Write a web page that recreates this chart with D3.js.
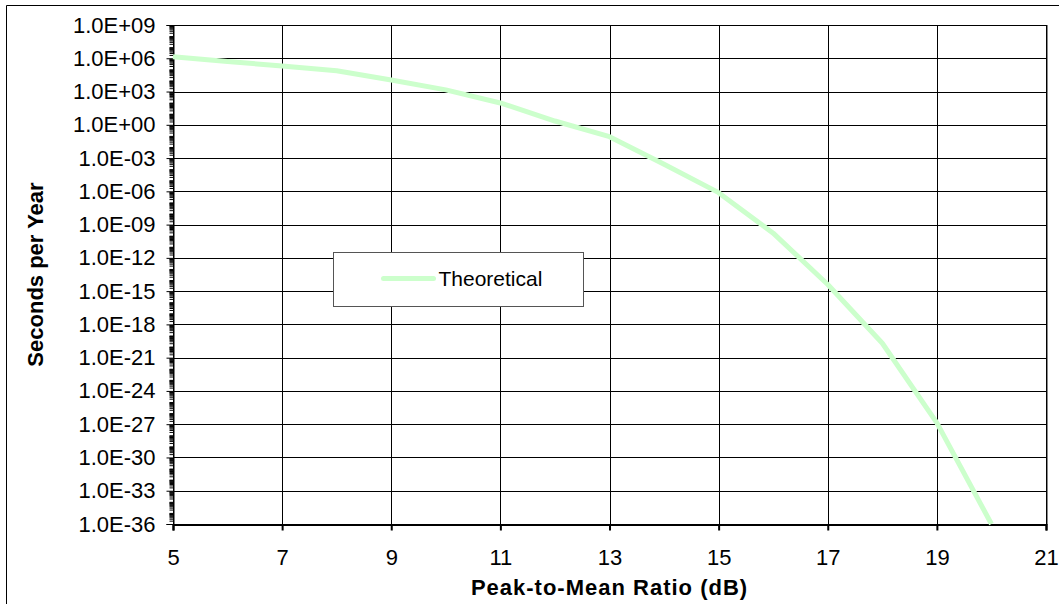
<!DOCTYPE html>
<html>
<head>
<meta charset="utf-8">
<script src="https://cdn.jsdelivr.net/npm/d3@7"></script>
<style>
  body { margin: 0; background: #fff; }
  svg { font-family: "Liberation Sans", Arial, sans-serif; }
</style>
</head>
<body>
<div id="chart"></div>
<script>
// peak-to-mean ratio (dB)
var ratios = [5, 6, 7, 8, 9, 10, 11, 12, 13, 14, 15, 16, 17, 18, 19, 20];
// seconds per year (theoretical)
var seconds = [1.4e6, 5.2e5, 2.0e5, 7.6e4, 1.1e4, 1.4e3, 9.3e1, 2.2e0,
               8.5e-2, 2.8e-4, 7.6e-7, 1.7e-10, 4.0e-15, 2.0e-20, 1.3e-27, 1.0e-36];
var xTicks = [5, 7, 9, 11, 13, 15, 17, 19, 21];
var yExponents = [9, 6, 3, 0, -3, -6, -9, -12, -15, -18, -21, -24, -27, -30, -33, -36];
var seriesName = 'Theoretical';

var width = 1059, height = 604;
var margin = {top: 25, right: 12, bottom: 80, left: 173};

var svg = d3.select('#chart').append('svg')
    .attr('width', width)
    .attr('height', height);

// outer chart border
svg.append('path')
    .attr('d', 'M6.5,' + height + ' V5.5 H' + width)
    .style('fill', 'none')
    .style('stroke', '#000');

var x = d3.scaleLinear()
    .domain([5, 21])
    .range([margin.left, width - margin.right - 1]);

var y = d3.scaleLog()
    .domain([1e-36, 1e9])
    .range([524, margin.top]);

var g = svg.append('g');

// gridlines
g.selectAll('.hgrid')
    .data(yExponents)
  .enter().append('line')
    .attr('x1', x(5)).attr('x2', x(21))
    .attr('y1', function(d) { return Math.round(y(Math.pow(10, d))) + 0.5; })
    .attr('y2', function(d) { return Math.round(y(Math.pow(10, d))) + 0.5; })
    .style('stroke', '#000');

g.selectAll('.vgrid')
    .data(xTicks)
  .enter().append('line')
    .attr('y1', y(1e9)).attr('y2', y(1e-36))
    .attr('x1', function(d) { return Math.round(x(d)) + 0.5; })
    .attr('x2', function(d) { return Math.round(x(d)) + 0.5; })
    .style('stroke', '#000');

// plot border right side
g.append('line')
    .attr('x1', Math.round(x(21)) + 1.5).attr('x2', Math.round(x(21)) + 1.5)
    .attr('y1', y(1e9)).attr('y2', y(1e-36) + 1)
    .style('stroke', '#888');

// y axis: major ticks, minor ticks, labels
var minor = [];
for (var e = -36; e < 9; e++) {
  for (var m = 2; m <= 9; m++) minor.push(m * Math.pow(10, e));
  if (e % 3 !== 0) minor.push(Math.pow(10, e));
}

var yAxis = d3.axisLeft(y)
    .tickValues(yExponents.map(function(d) { return Math.pow(10, d); }))
    .tickSize(7)
    .tickPadding(11)
    .tickFormat(function(d) {
      var ex = Math.round(Math.log10(d));
      var s = Math.abs(ex) < 10 ? '0' + Math.abs(ex) : '' + Math.abs(ex);
      return '1.0E' + (ex < 0 ? '-' : '+') + s;
    });

var yMinor = d3.axisLeft(y)
    .tickValues(minor)
    .tickSize(4)
    .tickFormat('');

var ya = g.append('g')
    .attr('transform', 'translate(' + (Math.round(x(5)) + 0.5) + ',0)')
    .call(yAxis);
ya.selectAll('text').style('font-size', '22px').style('fill', '#000');

var ym = g.append('g')
    .attr('transform', 'translate(' + (Math.round(x(5)) + 0.5) + ',0)')
    .call(yMinor);
ym.select('.domain').remove();

// x axis
var xAxis = d3.axisBottom(x)
    .tickValues(xTicks)
    .tickSize(6)
    .tickPadding(19)
    .tickFormat(d3.format('d'));

var xa = g.append('g')
    .attr('transform', 'translate(0,' + (Math.round(y(1e-36)) + 0.5) + ')')
    .call(xAxis);
xa.selectAll('text').style('font-size', '22px').style('fill', '#000');
xa.selectAll('.domain, .tick line').style('stroke', '#000').style('stroke-width', 2);
ya.selectAll('.domain, .tick line').style('stroke', '#000');

// series line
var line = d3.line()
    .x(function(d, i) { return x(ratios[i]); })
    .y(function(d) { return y(d); });

g.append('path')
    .datum(seconds)
    .attr('d', line)
    .style('fill', 'none')
    .style('stroke', '#ccffcc')
    .style('stroke-width', 5)
    .style('stroke-linejoin', 'round');

// axis titles
svg.append('text')
    .attr('x', (x(5) + x(21)) / 2)
    .attr('y', 595)
    .attr('text-anchor', 'middle')
    .style('font-size', '22px')
    .style('font-weight', 'bold')
    .style('letter-spacing', '1px')
    .text('Peak-to-Mean Ratio (dB)');

svg.append('text')
    .attr('transform', 'translate(43,' + ((y(1e9) + y(1e-36)) / 2) + ') rotate(-90)')
    .attr('text-anchor', 'middle')
    .style('font-size', '22px')
    .style('font-weight', 'bold')
    .text('Seconds per Year');

// legend
var legend = svg.append('g').attr('transform', 'translate(333.5,252.5)');
legend.append('rect')
    .attr('width', 250)
    .attr('height', 54)
    .style('fill', '#fff')
    .style('stroke', '#555');
legend.append('line')
    .attr('x1', 50).attr('x2', 100)
    .attr('y1', 26).attr('y2', 26)
    .style('stroke', '#ccffcc')
    .style('stroke-width', 5)
    .style('stroke-linecap', 'round');
legend.append('text')
    .attr('x', 105)
    .attr('y', 33)
    .style('font-size', '21px')
    .text(seriesName);
</script>
</body>
</html>
